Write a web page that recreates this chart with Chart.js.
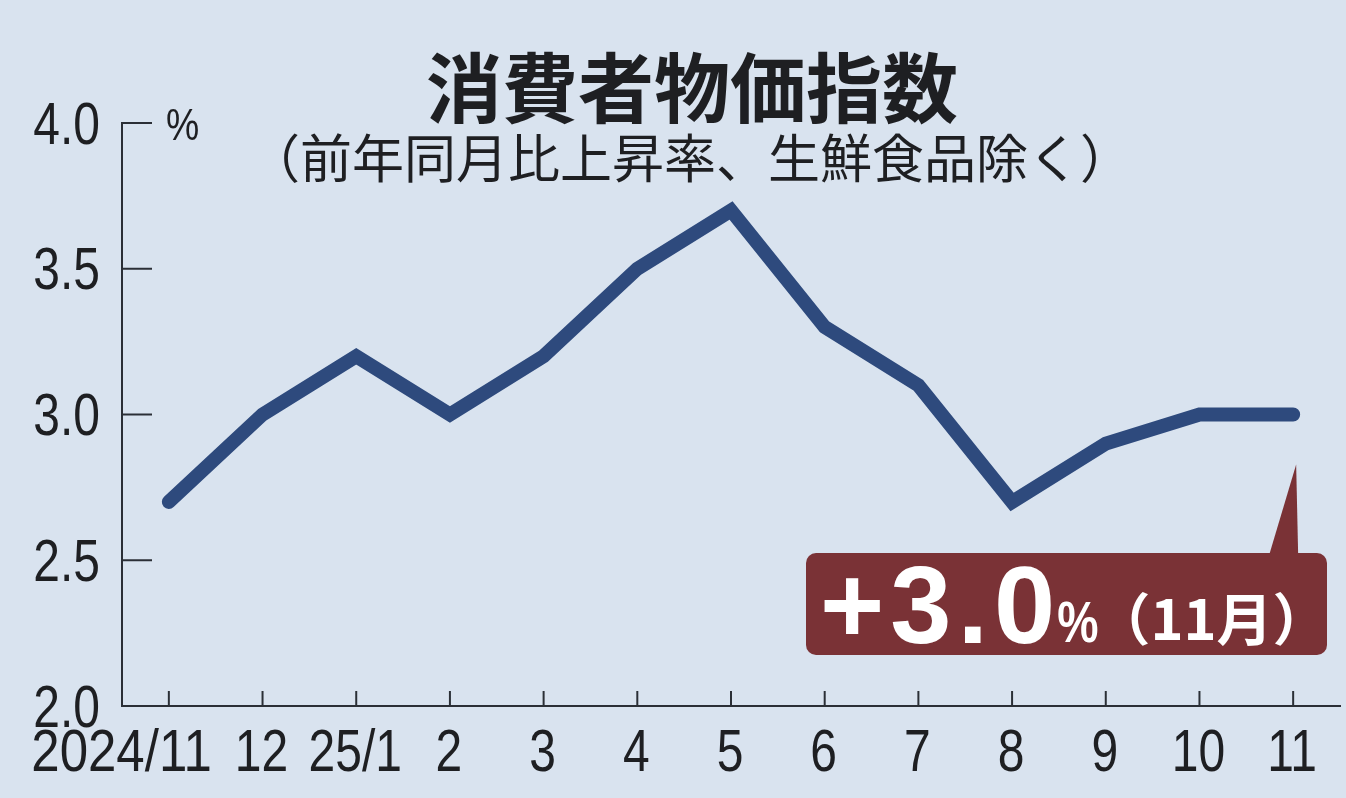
<!DOCTYPE html>
<html>
<head>
<meta charset="utf-8">
<script src="https://cdn.jsdelivr.net/npm/chart.js@4"></script>
<style>
  html, body { margin: 0; padding: 0; background: #d9e3ef; }
  #wrap { width: 1346px; height: 798px; position: relative; }
</style>
</head>
<body>
<div id="wrap"><canvas id="cpi" width="1346" height="798"></canvas></div>
<script>
const months = ["2024/11", "12", "25/1", "2", "3", "4", "5", "6", "7", "8", "9", "10", "11"];
const cpiRate = [2.7, 3.0, 3.2, 3.0, 3.2, 3.5, 3.7, 3.3, 3.1, 2.7, 2.9, 3.0, 3.0];
const yTicks = [2.0, 2.5, 3.0, 3.5, 4.0];
const latestLabel = "+3.0";
const latestPct = "%";
const latestNote = "（11月）";

const numFont = "'Liberation Sans', Arial, sans-serif";
const jpFont = "'Noto Sans CJK JP', sans-serif";
const axisColor = "#2b2f36";
const textColor = "#1e1f22";

// condensed text: the tick labels in the original are a narrow face
function narrowText(ctx, text, x, y, align, squeeze) {
    ctx.save();
    ctx.translate(x, y);
    ctx.scale(squeeze, 1);
    ctx.textAlign = align;
    ctx.fillText(text, 0, 0);
    ctx.restore();
}

// tick marks inside the axes, tick labels, title, and callout box
const decorations = {
    id: "decorations",
    afterDraw(chart) {
        const ctx = chart.ctx;
        const x = chart.scales.x;
        const y = chart.scales.y;
        const area = chart.chartArea;
        ctx.save();
        ctx.strokeStyle = axisColor;
        ctx.lineWidth = 2;
        ctx.fillStyle = textColor;
        ctx.font = "60px " + numFont;
        ctx.textBaseline = "middle";
        yTicks.forEach(v => {
            const py = y.getPixelForValue(v);
            ctx.beginPath();
            ctx.moveTo(area.left, py);
            ctx.lineTo(area.left + 30, py);
            ctx.stroke();
            narrowText(ctx, v.toFixed(1), area.left - 22, py + 4, "right", 0.8);
        });
        months.forEach((m, i) => {
            const px = x.getPixelForValue(i);
            ctx.beginPath();
            ctx.moveTo(px, area.bottom);
            ctx.lineTo(px, area.bottom - 15);
            ctx.stroke();
            // the first label is long, so it hangs to the left of its tick
            if (i === 0) {
                narrowText(ctx, m, px + 43, area.bottom + 48, "right", 0.85);
            } else {
                narrowText(ctx, m, px - 1, area.bottom + 48, "center", 0.8);
            }
        });

        // titles
        ctx.textAlign = "center";
        ctx.font = "bold 76px " + jpFont;
        ctx.fillText("消費者物価指数", 692, 88);
        ctx.font = "52px " + jpFont;
        ctx.fillText("（前年同月比上昇率、生鮮食品除く）", 690, 158);
        ctx.textAlign = "left";
        ctx.font = "44px " + numFont;
        narrowText(ctx, "%", 166, 128, "left", 0.85);

        // callout
        const last = cpiRate.length - 1;
        const tipX = x.getPixelForValue(last);
        const tipY = y.getPixelForValue(cpiRate[last]) + 50;
        const bx = 806, by = 553, bw = 521, bh = 102;
        ctx.fillStyle = "#7a3236";
        ctx.beginPath();
        ctx.moveTo(tipX - 24, by + 2);
        ctx.lineTo(tipX + 3, tipY);
        ctx.lineTo(tipX + 5, by + 2);
        ctx.closePath();
        ctx.fill();
        ctx.beginPath();
        ctx.roundRect(bx, by, bw, bh, 10);
        ctx.fill();
        ctx.fillStyle = "#ffffff";
        ctx.textBaseline = "alphabetic";
        ctx.font = "bold 110px " + numFont;
        ctx.letterSpacing = "6px";
        ctx.fillText(latestLabel, 820, 643);
        let cx = 822 + ctx.measureText(latestLabel).width - 6;
        ctx.letterSpacing = "0px";
        ctx.font = "bold 58px " + numFont;
        narrowText(ctx, latestPct, cx, 642, "left", 0.8);
        cx += ctx.measureText(latestPct).width * 0.8;
        ctx.font = "bold 56px " + jpFont;
        ctx.fillText(latestNote, cx - 4, 640);
        ctx.restore();
    }
};

new Chart(document.getElementById("cpi"), {
    type: "line",
    data: {
        labels: months,
        datasets: [{
            data: cpiRate,
            borderColor: "#2e4a7d",
            borderWidth: 14,
            borderJoinStyle: "miter",
            borderCapStyle: "round",
            pointRadius: 0,
            tension: 0,
            fill: false
        }]
    },
    options: {
        responsive: false,
        animation: false,
        devicePixelRatio: 1,
        layout: { padding: { top: 123, right: 6, left: 0, bottom: 0 } },
        plugins: { legend: { display: false }, tooltip: { enabled: false } },
        scales: {
            x: {
                offset: true,
                grid: { display: false, drawTicks: false },
                border: { display: true, color: axisColor, width: 2 },
                ticks: { display: false },
                afterFit(scale) { scale.height = 92; }
            },
            y: {
                min: 2,
                max: 4,
                grid: { display: false, drawTicks: false },
                border: { display: true, color: axisColor, width: 2 },
                ticks: { display: false },
                afterFit(scale) { scale.width = 122; }
            }
        }
    },
    plugins: [decorations]
});
</script>
</body>
</html>
